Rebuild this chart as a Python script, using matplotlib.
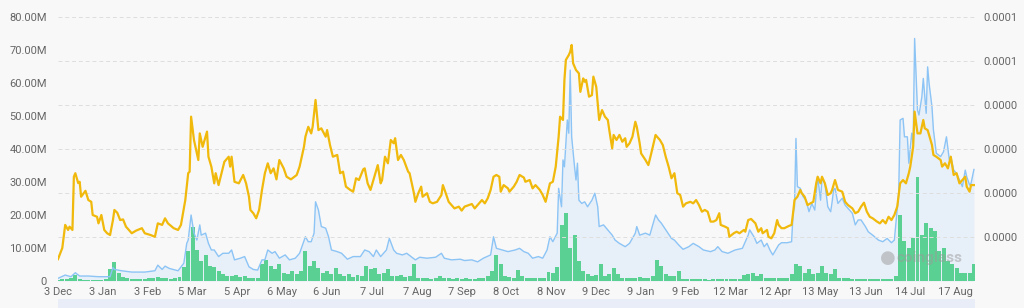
import matplotlib
matplotlib.use("Agg")
import matplotlib.pyplot as plt
from matplotlib.patches import Rectangle

# x axis: day index from 3 Dec, one label every 31 days
tick_labels = ["3 Dec", "3 Jan", "3 Feb", "5 Mar", "5 Apr", "6 May", "6 Jun", "7 Jul",
               "7 Aug", "7 Sep", "8 Oct", "8 Nov", "9 Dec", "9 Jan", "9 Feb", "12 Mar",
               "12 Apr", "13 May", "13 Jun", "14 Jul", "17 Aug"]
tick_step = 31
last_day = 633

# price (right axis, x 1e-5) as (day, value)
price_points = [
    (0, 0.99), (3, 1.50), (5, 2.55), (7, 2.32), (8, 2.47), (10, 2.32), (11, 4.74), (12, 4.90),
    (14, 4.45), (15, 4.51), (16, 3.83), (19, 4.10), (21, 3.68), (23, 3.60), (24, 3.00), (27, 2.92),
    (28, 2.62), (30, 3.00), (32, 2.32), (34, 2.17), (36, 2.09), (38, 2.77), (39, 3.23), (41, 3.10),
    (43, 2.77), (45, 2.80), (47, 2.47), (51, 2.17), (54, 2.29), (58, 2.40), (60, 2.17), (64, 2.09),
    (67, 2.01), (69, 2.62), (72, 2.55), (74, 2.85), (76, 2.62), (80, 2.40), (83, 2.32), (85, 2.55),
    (88, 3.68), (90, 4.90), (91, 4.97), (92, 7.47), (94, 6.41), (95, 6.10), (97, 5.50), (98, 6.71),
    (100, 6.10), (101, 6.33), (103, 6.79), (104, 5.65), (106, 5.20), (108, 4.44), (109, 4.90),
    (111, 4.36), (113, 4.90), (115, 5.42), (118, 5.65), (119, 5.20), (120, 5.65), (122, 4.51),
    (125, 4.44), (128, 4.82), (130, 4.44), (132, 3.83), (133, 3.23), (135, 3.08), (137, 2.85),
    (139, 3.23), (141, 4.14), (143, 4.90), (145, 5.35), (147, 4.90), (149, 5.12), (151, 4.62),
    (153, 5.50), (156, 5.12), (158, 4.74), (161, 4.62), (165, 4.82), (167, 5.20), (170, 6.10),
    (171, 6.56), (173, 7.01), (175, 6.71), (176, 7.01), (178, 8.23), (180, 6.86), (182, 6.94),
    (185, 6.56), (186, 6.86), (188, 6.18), (190, 5.65), (193, 5.73), (195, 4.90), (197, 4.97),
    (199, 4.29), (202, 4.14), (204, 4.06), (206, 4.67), (208, 4.59), (211, 5.08), (212, 5.12),
    (214, 4.44), (216, 4.14), (218, 4.59), (221, 5.27), (223, 4.44), (224, 4.59), (226, 5.65),
    (228, 5.35), (230, 6.41), (232, 6.26), (233, 6.49), (235, 5.50), (237, 5.73), (239, 5.50),
    (242, 4.97), (243, 4.90), (246, 3.99), (247, 3.60), (249, 3.99), (251, 4.29), (252, 3.83),
    (255, 3.99), (257, 3.60), (259, 3.53), (262, 3.60), (265, 3.91), (266, 4.36), (268, 3.99),
    (270, 3.60), (272, 3.45), (274, 3.30), (277, 3.38), (279, 3.20), (281, 3.38), (284, 3.45),
    (286, 3.50), (288, 3.30), (290, 3.45), (293, 3.68), (295, 3.53), (297, 3.76), (299, 4.14),
    (301, 4.74), (303, 4.82), (305, 4.74), (306, 4.06), (308, 4.36), (311, 4.21), (312, 4.06),
    (315, 4.29), (317, 4.51), (319, 4.82), (322, 4.70), (323, 4.51), (326, 4.59), (328, 4.21),
    (330, 4.36), (333, 4.14), (335, 3.91), (337, 3.60), (340, 4.44), (342, 4.51), (344, 5.20),
    (346, 6.56), (347, 7.47), (349, 7.32), (350, 9.14), (351, 10.05), (353, 10.27), (354, 10.42),
    (355, 10.73), (356, 9.90), (358, 9.59), (360, 9.44), (361, 8.60), (363, 9.21), (364, 9.06),
    (365, 9.14), (367, 8.38), (369, 8.45), (370, 9.29), (372, 8.83), (374, 7.32), (376, 7.77),
    (378, 7.47), (380, 7.32), (381, 6.86), (383, 6.03), (384, 6.64), (386, 6.41), (388, 6.64),
    (390, 6.33), (392, 6.49), (393, 6.10), (395, 6.26), (397, 6.56), (399, 7.24), (400, 7.01),
    (402, 6.26), (403, 5.80), (406, 5.50), (408, 5.27), (410, 5.80), (413, 6.64), (414, 6.56),
    (416, 6.41), (418, 6.18), (420, 5.65), (422, 5.20), (424, 4.67), (426, 4.90), (428, 3.99),
    (430, 3.91), (432, 3.38), (434, 3.53), (437, 3.60), (439, 3.53), (441, 3.68), (443, 3.45),
    (445, 3.15), (447, 3.23), (449, 3.15), (451, 2.70), (453, 2.70), (455, 2.77), (457, 3.08),
    (458, 2.55), (461, 2.47), (463, 2.40), (464, 2.01), (467, 2.17), (469, 2.24), (471, 2.17),
    (474, 2.32), (475, 2.24), (477, 2.77), (479, 2.82), (482, 2.62), (484, 2.24), (486, 2.40),
    (487, 2.17), (490, 2.32), (491, 2.01), (493, 1.94), (495, 2.17), (497, 2.77), (498, 2.55),
    (500, 2.40), (502, 2.40), (505, 2.50), (507, 2.55), (508, 3.08), (509, 3.68), (511, 3.83),
    (513, 4.14), (514, 3.99), (516, 3.83), (518, 3.45), (520, 3.53), (522, 3.60), (524, 4.44),
    (525, 4.74), (527, 4.44), (528, 4.74), (530, 4.44), (532, 3.91), (534, 3.99), (535, 4.14),
    (537, 4.59), (539, 4.14), (542, 4.06), (544, 3.60), (546, 3.45), (549, 3.30), (551, 3.08),
    (553, 3.15), (555, 3.38), (557, 3.56), (559, 3.15), (561, 2.92), (563, 2.85), (566, 2.70),
    (568, 2.62), (570, 2.77), (572, 2.62), (574, 2.92), (576, 2.77), (578, 3.00), (580, 3.38),
    (582, 4.44), (584, 4.59), (586, 4.44), (588, 4.90), (589, 5.20), (591, 6.10), (592, 7.70),
    (594, 6.71), (596, 6.71), (598, 7.32), (599, 6.94), (601, 6.86), (602, 6.64), (604, 6.18),
    (605, 5.73), (607, 5.65), (610, 5.50), (611, 5.20), (613, 5.35), (615, 5.12), (617, 5.65),
    (619, 4.82), (621, 4.90), (623, 4.44), (625, 4.59), (627, 4.74), (628, 4.29), (630, 4.06),
    (631, 4.36), (633, 4.36),
]

# open interest (left axis, millions) as (day, value)
oi_points = [
    (0, 0.8), (5, 1.8), (9, 1.3), (12, 2.5), (15, 1.5), (21, 1.5), (28, 1.3), (36, 1.3), (38, 4.1),
    (39, 3.5), (44, 3.1), (51, 2.7), (60, 2.7), (67, 3.1), (69, 4.8), (72, 3.5), (74, 4.5), (77, 3.8),
    (83, 3.1), (87, 5.4), (89, 11.4), (90, 12.4), (92, 20.0), (94, 14.5), (96, 12.4), (98, 17.0),
    (99, 13.9), (102, 14.5), (104, 11.4), (106, 9.4), (108, 9.4), (111, 7.4), (114, 8.4), (118, 8.4),
    (120, 9.4), (122, 6.4), (126, 6.9), (129, 7.4), (132, 4.3), (135, 3.5), (138, 3.3), (141, 6.4),
    (143, 6.4), (145, 9.4), (148, 8.4), (150, 8.9), (153, 6.9), (157, 7.9), (160, 6.4), (164, 6.9),
    (167, 8.4), (171, 13.4), (173, 11.9), (175, 11.9), (177, 14.5), (178, 24.0), (180, 21.5),
    (182, 16.5), (185, 16.0), (187, 13.4), (189, 9.4), (193, 8.9), (196, 8.4), (200, 6.6), (204, 7.4),
    (209, 7.4), (212, 9.4), (215, 8.9), (218, 7.4), (220, 9.4), (223, 7.4), (225, 8.4), (227, 9.4),
    (229, 12.9), (232, 9.4), (234, 8.4), (238, 7.9), (241, 8.4), (244, 7.4), (247, 6.4), (250, 7.2),
    (255, 6.9), (261, 7.2), (265, 8.4), (267, 6.9), (272, 6.4), (278, 6.6), (281, 6.2), (286, 6.4),
    (290, 5.8), (294, 6.9), (299, 7.9), (301, 13.4), (303, 9.9), (307, 9.4), (311, 8.9), (316, 9.4),
    (319, 9.9), (322, 8.9), (325, 8.4), (328, 6.9), (332, 7.4), (335, 6.9), (338, 9.4), (340, 13.4),
    (342, 11.9), (345, 14.5), (346, 28.1), (348, 22.5), (349, 36.7), (350, 34.6), (352, 48.8),
    (353, 44.8), (354, 63.9), (355, 43.7), (357, 34.6), (358, 30.6), (359, 35.7), (360, 24.5),
    (362, 23.5), (364, 24.0), (366, 22.5), (369, 24.5), (371, 26.6), (373, 22.5), (374, 16.5),
    (377, 17.0), (378, 16.5), (383, 13.9), (385, 12.4), (388, 11.4), (392, 10.4), (395, 11.4),
    (399, 14.5), (400, 16.5), (402, 13.9), (406, 14.5), (409, 13.9), (413, 20.0), (415, 18.5),
    (417, 17.5), (421, 14.9), (424, 12.9), (426, 12.4), (429, 10.9), (432, 9.6), (436, 10.4),
    (439, 11.4), (443, 10.4), (446, 9.4), (451, 8.9), (454, 9.4), (456, 10.4), (459, 8.9), (463, 8.4),
    (468, 9.4), (473, 9.9), (477, 13.9), (478, 15.5), (481, 13.4), (483, 11.4), (486, 12.4),
    (488, 10.4), (490, 11.4), (492, 9.4), (494, 7.9), (496, 9.4), (498, 10.9), (500, 11.6),
    (504, 11.6), (507, 11.9), (508, 20.5), (509, 22.5), (510, 43.2), (511, 28.6), (513, 28.1),
    (515, 25.5), (517, 24.5), (519, 21.0), (521, 23.5), (523, 21.5), (525, 31.6), (527, 24.5),
    (528, 31.1), (530, 29.6), (532, 22.5), (534, 21.0), (535, 24.0), (536, 27.6), (537, 28.1),
    (539, 23.5), (542, 25.1), (544, 23.0), (546, 22.0), (549, 20.5), (551, 17.0), (553, 18.5),
    (555, 18.5), (558, 16.5), (560, 14.9), (563, 13.9), (567, 12.4), (570, 11.9), (573, 12.9),
    (576, 11.6), (578, 12.4), (581, 26.6), (582, 48.8), (584, 49.3), (585, 43.7), (587, 43.7),
    (588, 35.7), (590, 44.8), (591, 41.7), (592, 73.5), (594, 51.8), (595, 50.3), (597, 55.8),
    (598, 61.4), (600, 50.8), (601, 64.9), (602, 59.9), (604, 52.8), (605, 45.8), (607, 38.7),
    (610, 37.7), (612, 39.2), (614, 43.7), (616, 36.7), (617, 37.7), (619, 33.6), (621, 32.6),
    (623, 30.6), (625, 28.6), (627, 33.6), (628, 31.6), (630, 29.1), (631, 29.6), (633, 33.8),
]

# volume (left axis, millions), one value every 3 days
volume_step = 3
volume = [
    0.4, 0.5, 0.6, 1.0, 1.7, 0.6, 0.4, 0.4, 0.3, 0.3, 0.4, 0.5, 3.5, 5.8, 2.5, 1.2, 0.8, 0.6, 0.6, 0.5,
    0.6, 0.8, 0.9, 1.3, 1.0, 0.8, 0.7, 0.8, 1.2, 4.2, 9.0, 16.4, 9.3, 6.0, 7.9, 4.5, 4.2, 3.0, 2.0, 1.5,
    1.5, 1.8, 1.3, 1.5, 1.0, 0.8, 1.0, 5.0, 6.5, 4.5, 3.5, 5.0, 2.5, 2.0, 3.0, 2.0, 3.0, 9.0, 4.5, 6.0,
    4.0, 2.5, 3.0, 2.0, 4.0, 2.0, 1.5, 2.0, 1.2, 1.8, 1.5, 4.5, 3.5, 4.0, 2.0, 2.5, 3.5, 1.6, 1.4, 1.8,
    1.2, 1.5, 5.0, 1.0, 1.0, 0.8, 0.7, 1.0, 1.6, 1.0, 0.8, 0.7, 0.8, 0.7, 0.8, 0.7, 0.6, 0.8, 1.0, 1.5,
    3.0, 7.8, 5.0, 1.5, 1.2, 1.0, 3.2, 1.5, 1.0, 0.9, 0.8, 1.0, 1.0, 2.7, 2.5, 4.2, 17.0, 20.5, 10.0, 14.0,
    6.0, 3.0, 2.0, 1.5, 1.8, 5.0, 1.5, 2.0, 4.0, 2.0, 1.0, 1.0, 0.9, 1.0, 1.2, 1.0, 1.0, 1.5, 6.4, 4.5,
    2.0, 1.5, 1.5, 3.0, 0.6, 0.5, 0.5, 0.6, 0.5, 0.5, 0.4, 0.5, 0.5, 0.6, 0.5, 0.5, 0.5, 0.6, 1.8, 2.0,
    2.5, 1.5, 2.0, 1.0, 0.8, 1.0, 1.0, 0.8, 1.0, 2.0, 5.0, 4.5, 2.5, 3.5, 2.0, 2.5, 4.5, 2.5, 2.0, 3.5,
    1.0, 0.8, 0.8, 0.7, 0.6, 0.7, 0.6, 0.6, 0.6, 0.5, 0.6, 0.7, 0.6, 1.5, 20.0, 12.0, 10.0, 13.0, 31.6, 14.0,
    17.5, 16.0, 15.0, 9.0, 10.0, 6.0, 5.0, 4.0, 2.5, 2.5, 2.5, 5.0,
]

price_days = [d for d, v in price_points]
price_vals = [v * 1e-5 for d, v in price_points]
oi_days = [d for d, v in oi_points]
oi_vals = [v * 1e6 for d, v in oi_points]
vol_days = [i * volume_step for i in range(len(volume))]
vol_vals = [v * 1e6 for v in volume]

bg = "#f8f8f8"
txt = "#666666"
plt.rcParams["font.family"] = ["Roboto", "DejaVu Sans"]

fig = plt.figure(figsize=(10.24, 3.08), dpi=100, facecolor=bg)
ax = fig.add_axes([0.0566, 0.0877, 0.8955, 0.857])
ax.set_facecolor(bg)

ax.fill_between(oi_days, 0, oi_vals, color="#e3edfa", alpha=0.8, lw=0, zorder=1)
ax.bar(vol_days, vol_vals, width=2.75, color="#5ad193", lw=0, zorder=2)
ax.plot(oi_days, oi_vals, color="#8cc4f5", lw=1.0, zorder=3)

ax.set_xlim(0, last_day + 0.7)
ax.set_ylim(0, 80e6)
ax.set_yticks([i * 10e6 for i in range(9)])
ax.set_yticklabels(["0"] + ["%d.00M" % (i * 10) for i in range(1, 9)])
ax.set_xticks([i * tick_step for i in range(len(tick_labels))])
ax.set_xticklabels(tick_labels)
ax.tick_params(axis="both", length=0, labelsize=8, colors=txt)
ax.tick_params(axis="y", pad=8)
ax.tick_params(axis="x", pad=4)
for s in ax.spines.values():
    s.set_visible(False)

ax2 = ax.twinx()
ax2.plot(price_days, price_vals, color="#f0b90b", lw=1.6, zorder=5)
ax2.set_ylim(0, 12e-5)
r_ticks = [2e-5, 4e-5, 6e-5, 8e-5, 10e-5, 12e-5]
ax2.set_yticks(r_ticks)
ax2.set_yticklabels(["0.0000", "0.0000", "0.0000", "0.0000", "0.0001", "0.0001"])
ax2.tick_params(axis="y", length=0, labelsize=8, colors=txt, pad=6)
ax2.grid(axis="y", color="#dedede", ls=(0, (4, 3)), lw=0.7)
ax2.set_axisbelow(True)
for s in ax2.spines.values():
    s.set_visible(False)

# watermark and slider strip
ax2.text(0.986, 0.087, "coinglass", transform=ax2.transAxes, ha="right", va="center",
         fontsize=11, fontweight="bold", color="#9a9a9a", alpha=0.5, zorder=6)
ax2.text(0.905, 0.087, "\u25cf", transform=ax2.transAxes, ha="center", va="center",
         fontsize=13, color="#9a9a9a", alpha=0.5, zorder=6)
fig.add_artist(Rectangle((0.0566, 0.0), 0.8955, 0.03, transform=fig.transFigure,
                         color="#e9edf8", lw=0))

fig.savefig("out.png", dpi=100, facecolor=bg)
